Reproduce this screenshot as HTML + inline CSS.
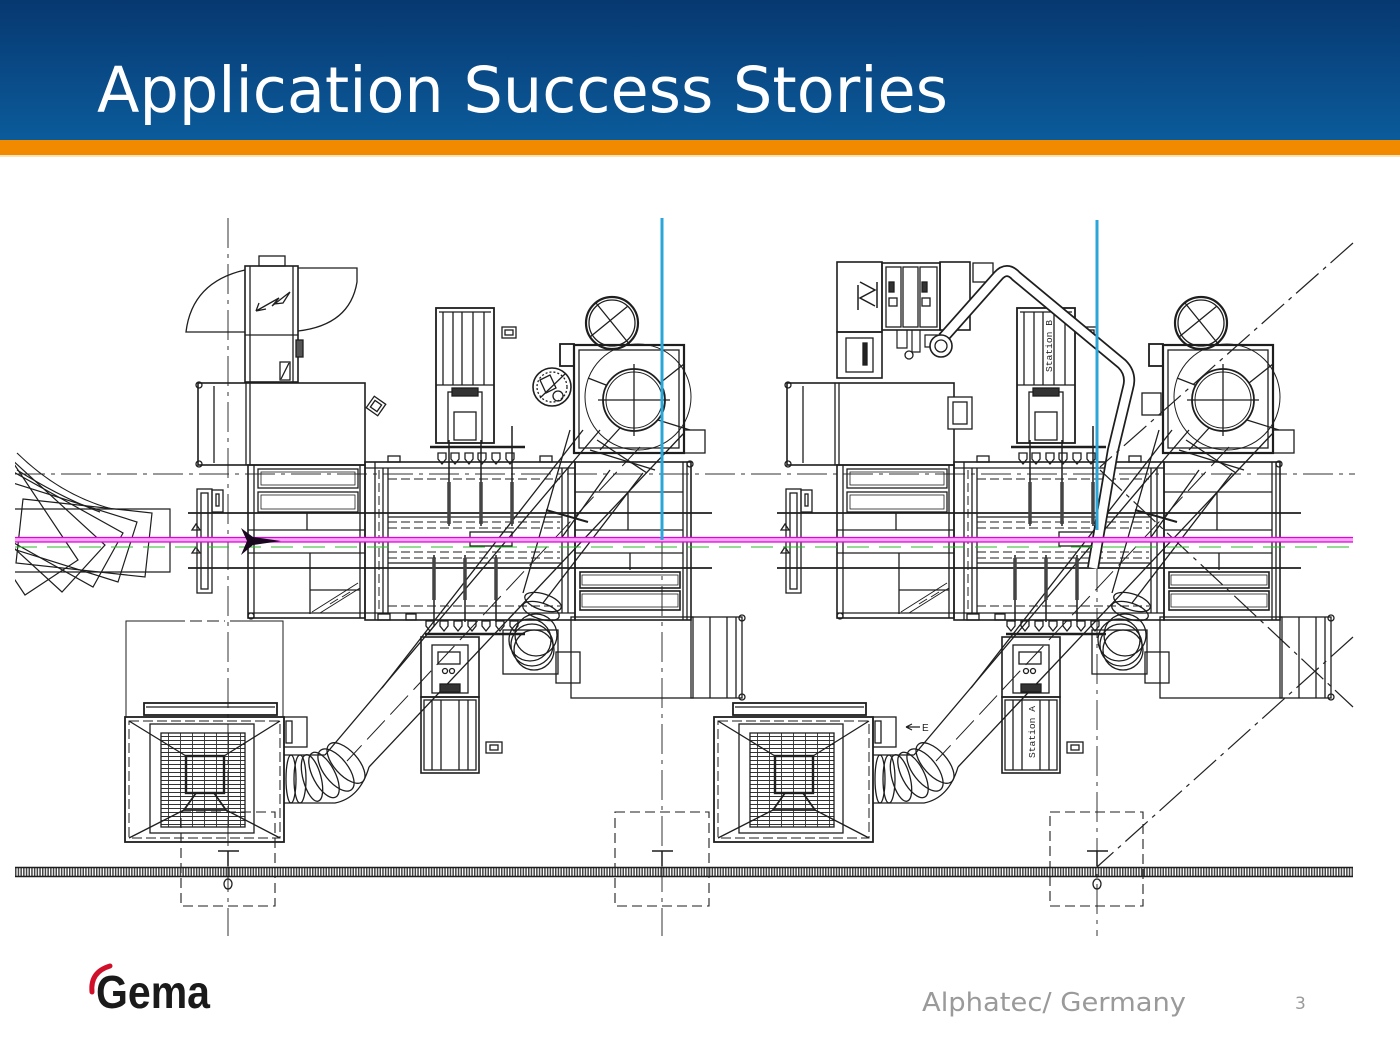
<!DOCTYPE html>
<html><head><meta charset="utf-8">
<style>
html,body{margin:0;padding:0;background:#fff;}
body{width:1400px;height:1050px;overflow:hidden;position:relative;}
svg{display:block;}
</style></head><body>
<svg width="1400" height="1050" viewBox="0 0 1400 1050" xmlns="http://www.w3.org/2000/svg">
<defs>
<linearGradient id="hdr" x1="0" y1="0" x2="0" y2="1">
<stop offset="0" stop-color="#073870"/><stop offset="1" stop-color="#0b5b9b"/>
</linearGradient>
<pattern id="grid" x="0" y="0" width="12" height="4" patternUnits="userSpaceOnUse">
<path d="M0,0.5H12 M0.5,0V4" stroke="#333" stroke-width="0.9" fill="none"/>
</pattern>
<clipPath id="lclip"><rect x="15" y="430" width="180" height="200"/></clipPath>

<g id="unit" fill="none" stroke="#1e1e1e" stroke-width="1.3">
 <rect x="198" y="383" width="167" height="82" stroke-width="1.6"/>
 <line x1="214" y1="386" x2="214" y2="463"/>
 <line x1="246" y1="383" x2="246" y2="465"/>
 <line x1="250" y1="383" x2="250" y2="465"/>
 <circle cx="199" cy="385" r="3"/><circle cx="199" cy="464" r="3"/>
 <rect x="197" y="489" width="15" height="104"/>
 <rect x="201" y="493" width="7" height="96"/>
 <rect x="212" y="490" width="11" height="22"/>
 <rect x="216" y="494" width="3" height="12"/>
 <path d="M196,524 l-4,6 h8 z M196,547 l-4,6 h8 z"/>
 <line x1="188" y1="513" x2="712" y2="513" stroke-width="1.8"/>
 <line x1="188" y1="568" x2="712" y2="568" stroke-width="1.8"/>
 <rect x="248" y="465" width="117" height="153" stroke-width="1.6"/>
 <line x1="254" y1="465" x2="254" y2="618"/>
 <line x1="360" y1="465" x2="360" y2="618"/>
 <rect x="258" y="469" width="100" height="19"/>
 <rect x="261" y="472" width="94" height="13" stroke-width=".8"/>
 <rect x="258" y="492" width="100" height="20"/>
 <rect x="261" y="495" width="94" height="14" stroke-width=".8"/>
 <line x1="248" y1="530" x2="365" y2="530"/>
 <line x1="248" y1="553" x2="365" y2="553"/>
 <line x1="307" y1="513" x2="307" y2="530"/>
 <line x1="310" y1="553" x2="310" y2="614"/>
 <line x1="310" y1="590" x2="360" y2="590"/>
 <path d="M312,612 L358,583 M320,613 L360,588 M330,604 l8,-5 M342,597 l8,-5" stroke-width="1"/>
 <line x1="248" y1="613" x2="365" y2="613"/>
 <circle cx="251" cy="616" r="3"/>
 <rect x="365" y="462" width="210" height="158" stroke-width="1.6"/>
 <line x1="365" y1="468" x2="575" y2="468"/>
 <line x1="365" y1="613" x2="575" y2="613"/>
 <line x1="375" y1="462" x2="375" y2="620"/>
 <line x1="383" y1="468" x2="383" y2="613"/>
 <line x1="388" y1="468" x2="388" y2="613"/>
 <line x1="562" y1="468" x2="562" y2="613"/>
 <line x1="568" y1="468" x2="568" y2="613"/>
 <g stroke-dasharray="9,4" stroke-width="1">
  <line x1="388" y1="479" x2="560" y2="479"/>
  <line x1="388" y1="522" x2="560" y2="522"/>
  <line x1="388" y1="528" x2="560" y2="528"/>
  <line x1="388" y1="552" x2="560" y2="552"/>
  <line x1="388" y1="558" x2="560" y2="558"/>
  <line x1="388" y1="606" x2="560" y2="606"/>
  <line x1="379" y1="470" x2="379" y2="610"/>
 </g>
 <line x1="388" y1="517" x2="562" y2="517"/>
 <line x1="388" y1="563" x2="562" y2="563"/>
 <rect x="470" y="532" width="42" height="14"/>
 <rect x="388" y="456" width="12" height="6"/><rect x="540" y="456" width="12" height="6"/>
 <rect x="378" y="614" width="12" height="6"/><rect x="406" y="614" width="10" height="6"/>
 <rect x="575" y="462" width="116" height="158" stroke-width="1.6"/>
 <line x1="683" y1="462" x2="683" y2="620"/>
 <line x1="687" y1="462" x2="687" y2="620"/>
 <line x1="575" y1="492" x2="683" y2="492"/>
 <line x1="575" y1="530" x2="683" y2="530"/>
 <line x1="575" y1="553" x2="683" y2="553"/>
 <line x1="628" y1="492" x2="628" y2="530"/>
 <line x1="630" y1="553" x2="630" y2="570"/>
 <rect x="580" y="572" width="100" height="16" stroke-width="1.6"/>
 <rect x="582" y="575" width="96" height="10" stroke-width=".8"/>
 <rect x="580" y="591" width="100" height="19" stroke-width="1.6"/>
 <rect x="582" y="594" width="96" height="13" stroke-width=".8"/>
 <circle cx="690" cy="464" r="3"/>
 <rect x="574" y="345" width="110" height="108" stroke-width="2.2"/>
 <rect x="579" y="350" width="100" height="98"/>
 <circle cx="638" cy="397" r="53" stroke-width="1"/>
 <circle cx="634" cy="400" r="31" stroke-width="1.8"/>
 <circle cx="634" cy="400" r="28" stroke-width="1"/>
 <line x1="598" y1="400" x2="670" y2="400"/>
 <line x1="634" y1="364" x2="634" y2="436"/>
 <line x1="660" y1="383" x2="684" y2="364"/>
 <line x1="658" y1="420" x2="690" y2="430"/>
 <line x1="606" y1="385" x2="588" y2="378"/>
 <line x1="620" y1="428" x2="600" y2="450"/>
 <circle cx="612" cy="323" r="26" stroke-width="2.2"/>
 <circle cx="612" cy="323" r="23"/>
 <line x1="596" y1="303" x2="630" y2="345"/>
 <line x1="590" y1="337" x2="628" y2="306"/>
 <rect x="684" y="430" width="21" height="23"/>
 <rect x="560" y="344" width="14" height="22" stroke-width="1.8"/>
 <line x1="583" y1="430" x2="382" y2="688"/>
 <line x1="600" y1="430" x2="325" y2="755"/>
 <line x1="684" y1="433" x2="369" y2="767"/>
 <line x1="640" y1="447" x2="347" y2="761" stroke-dasharray="26,8" stroke-width="1"/>
 <line x1="570" y1="430" x2="523" y2="593"/>
 <line x1="643" y1="473" x2="543" y2="603"/>
 <line x1="597" y1="440" x2="647" y2="473"/>
 <line x1="590" y1="450" x2="655" y2="470"/>
 <line x1="546" y1="510" x2="588" y2="522" stroke-width="2"/>
 <line x1="610" y1="470" x2="560" y2="540"/>
 <rect x="503" y="630" width="55" height="44"/>
 <rect x="556" y="652" width="24" height="31"/>
 <ellipse cx="543" cy="602" rx="19" ry="8" transform="rotate(18 543 602)"/>
 <ellipse cx="541" cy="611" rx="19" ry="8" transform="rotate(18 541 611)"/>
 <circle cx="530" cy="640" r="21"/>
 <circle cx="532" cy="645" r="21"/>
 <circle cx="534" cy="650" r="20"/>
 <circle cx="536" cy="635" r="21"/>
 <rect x="571" y="617" width="122" height="81"/>
 <rect x="691" y="617" width="51" height="81"/>
 <line x1="710" y1="617" x2="710" y2="698"/>
 <line x1="727" y1="617" x2="727" y2="698"/>
 <line x1="736" y1="617" x2="736" y2="698"/>
 <circle cx="742" cy="618" r="3"/><circle cx="742" cy="697" r="3"/>
 <rect x="144" y="703" width="133" height="12" stroke-width="1.8"/>
 <line x1="146" y1="707" x2="275" y2="707"/>
 <rect x="125" y="717" width="159" height="125" stroke-width="1.8"/>
 <rect x="129" y="721" width="151" height="117" stroke-dasharray="10,4" stroke-width="1"/>
 <rect x="150" y="724" width="104" height="109"/>
 <rect x="161" y="733" width="84" height="94" fill="url(#grid)"/>
 <rect x="186" y="756" width="38" height="37" stroke-width="2.4"/>
 <path d="M196,793 L184,810 H226 L214,793" stroke-width="1.8"/>
 <line x1="129" y1="721" x2="186" y2="756"/>
 <line x1="280" y1="721" x2="224" y2="756"/>
 <line x1="129" y1="838" x2="184" y2="810"/>
 <line x1="280" y1="838" x2="226" y2="810"/>
 <rect x="284" y="717" width="23" height="30"/>
 <rect x="286" y="721" width="6" height="22"/>
 <path d="M284,755 H325"/>
 <path d="M284,803 H335 Q360,798 369,767"/>
 <ellipse cx="291" cy="779" rx="5" ry="24"/>
 <ellipse cx="300" cy="779" rx="6" ry="24"/>
 <ellipse cx="312" cy="778" rx="9" ry="24" transform="rotate(-15 312 778)"/>
 <ellipse cx="324" cy="775" rx="11" ry="25" transform="rotate(-28 324 775)"/>
 <ellipse cx="336" cy="770" rx="12" ry="25" transform="rotate(-38 336 770)"/>
 <ellipse cx="346" cy="763" rx="12" ry="25" transform="rotate(-42 346 763)"/>
</g>

<g id="guns" fill="none" stroke="#1e1e1e" stroke-width="1.3">
 <rect x="436" y="308" width="58" height="135" stroke-width="1.8"/>
 <line x1="443" y1="312" x2="443" y2="385"/>
 <line x1="453" y1="312" x2="453" y2="385"/>
 <line x1="462" y1="312" x2="462" y2="385"/>
 <line x1="473" y1="312" x2="473" y2="385"/>
 <line x1="484" y1="312" x2="484" y2="385"/>
 <line x1="439" y1="312" x2="491" y2="312"/>
 <line x1="436" y1="385" x2="494" y2="385"/>
 <rect x="448" y="392" width="34" height="51"/>
 <rect x="452" y="388" width="26" height="8" fill="#333"/>
 <rect x="454" y="412" width="22" height="28"/>
 <line x1="430" y1="447" x2="525" y2="447" stroke-width="2.5"/>
 <path d="M438,453 h8 v6 l-4,5 l-4,-5 z M451,453 h8 v6 l-4,5 l-4,-5 z M465,453 h8 v6 l-4,5 l-4,-5 z M478,453 h8 v6 l-4,5 l-4,-5 z M492,453 h8 v6 l-4,5 l-4,-5 z M506,453 h8 v6 l-4,5 l-4,-5 z"/>
 <line x1="449" y1="440" x2="449" y2="526" stroke-width="1.5"/>
 <line x1="449" y1="482" x2="449" y2="524" stroke-width="3.5" stroke="#444"/>
 <line x1="481" y1="440" x2="481" y2="526" stroke-width="1.5"/>
 <line x1="481" y1="482" x2="481" y2="524" stroke-width="3.5" stroke="#444"/>
 <line x1="512" y1="426" x2="512" y2="526" stroke-width="1.5"/>
 <line x1="512" y1="482" x2="512" y2="524" stroke-width="3.5" stroke="#444"/>
 <line x1="434" y1="555" x2="434" y2="622" stroke-width="1.5"/>
 <line x1="434" y1="558" x2="434" y2="600" stroke-width="3.5" stroke="#444"/>
 <line x1="465" y1="555" x2="465" y2="622" stroke-width="1.5"/>
 <line x1="465" y1="558" x2="465" y2="600" stroke-width="3.5" stroke="#444"/>
 <line x1="496" y1="555" x2="496" y2="622" stroke-width="1.5"/>
 <line x1="496" y1="558" x2="496" y2="600" stroke-width="3.5" stroke="#444"/>
 <path d="M426,621 h8 v5 l-4,5 l-4,-5 z M440,621 h8 v5 l-4,5 l-4,-5 z M454,621 h8 v5 l-4,5 l-4,-5 z M468,621 h8 v5 l-4,5 l-4,-5 z M482,621 h8 v5 l-4,5 l-4,-5 z M496,621 h8 v5 l-4,5 l-4,-5 z M510,621 h8 v5 l-4,5 l-4,-5 z"/>
 <line x1="425" y1="634" x2="525" y2="634" stroke-width="2.5"/>
 <rect x="421" y="637" width="58" height="60" stroke-width="1.6"/>
 <rect x="432" y="645" width="36" height="48"/>
 <rect x="438" y="652" width="22" height="12"/>
 <circle cx="445" cy="671" r="2.5"/><circle cx="452" cy="671" r="2.5"/>
 <rect x="440" y="684" width="20" height="8" fill="#333"/>
 <rect x="421" y="697" width="58" height="76" stroke-width="1.6"/>
 <rect x="424" y="700" width="52" height="70"/>
 <line x1="432" y1="700" x2="432" y2="770"/>
 <line x1="441" y1="700" x2="441" y2="770"/>
 <line x1="459" y1="700" x2="459" y2="770"/>
 <line x1="468" y1="700" x2="468" y2="770"/>
 <rect x="486" y="742" width="16" height="11"/><rect x="490" y="745" width="8" height="5"/>
 <rect x="502" y="327" width="14" height="11"/><rect x="505" y="330" width="8" height="5"/>
</g>
</defs>

<rect x="0" y="0" width="1400" height="140" fill="url(#hdr)"/>
<rect x="0" y="140" width="1400" height="15" fill="#f28a00"/>
<rect x="0" y="155" width="1400" height="2" fill="#fbe3b5"/>
<text x="97" y="112" font-family="DejaVu Sans, Liberation Sans, sans-serif" font-size="63" fill="#ffffff" textLength="851" lengthAdjust="spacingAndGlyphs">Application Success Stories</text>

<g fill="none">
 <line x1="15" y1="474" x2="1355" y2="474" stroke="#333" stroke-width="1" stroke-dasharray="30,6,4,6"/>
 <line x1="228" y1="218" x2="228" y2="936" stroke="#333" stroke-width="1" stroke-dasharray="30,6,4,6"/>
 <line x1="662" y1="540" x2="662" y2="936" stroke="#333" stroke-width="1" stroke-dasharray="30,6,4,6"/>
 <line x1="1097" y1="470" x2="1097" y2="936" stroke="#333" stroke-width="1" stroke-dasharray="30,6,4,6"/>
</g>

<use href="#unit"/>
<use href="#unit" x="589"/>
<use href="#guns"/>
<use href="#guns" x="581"/>

<g fill="none" stroke="#1e1e1e" stroke-width="1.3">
 <rect x="259" y="256" width="26" height="10"/>
 <rect x="245" y="266" width="53" height="116" stroke-width="1.6"/>
 <line x1="245" y1="335" x2="298" y2="335"/>
 <line x1="250" y1="266" x2="250" y2="382"/>
 <line x1="293" y1="266" x2="293" y2="382"/>
 <path d="M245,270 Q192,282 186,332 L245,332"/>
 <path d="M298,268 L357,268 L357,282 Q350,325 298,331"/>
 <path d="M290,292 L272,306 L279,298 L256,311 M256,311 l10,-2 M256,311 l3,-8 M290,292 L283,303 L274,304"/>
 <rect x="280" y="362" width="10" height="18"/>
 <line x1="281" y1="379" x2="289" y2="363"/>
 <rect x="296" y="340" width="7" height="17" fill="#555"/>
 <circle cx="552" cy="387" r="19" stroke-width="1.6"/>
 <circle cx="552" cy="387" r="15" stroke-dasharray="2,2"/>
 <path d="M540,380 L550,375 L556,388 L546,393 Z"/>
 <circle cx="558" cy="396" r="5"/>
 <line x1="540" y1="398" x2="565" y2="374"/>
 <rect x="369" y="399" width="14" height="14" transform="rotate(35 376 406)"/>
 <rect x="372" y="402" width="8" height="8" transform="rotate(35 376 406)"/>
 <path d="M126,717 V621 H185 M230,621 H283 V717" stroke-width="1"/>
 <path d="M190,621 H225" stroke-width="1" stroke-dasharray="12,5"/>
 <rect x="181" y="812" width="94" height="94" stroke-dasharray="10,5" stroke-width="1.1"/>
 <rect x="615" y="812" width="94" height="94" stroke-dasharray="10,5" stroke-width="1.1"/>
 <rect x="1050" y="812" width="93" height="94" stroke-dasharray="10,5" stroke-width="1.1"/>
 <path d="M218,851 H239 M228,851 V866 M652,851 H673 M662,851 V866 M1087,851 H1108 M1097,851 V866" stroke-width="1.5"/>
 <ellipse cx="228" cy="884" rx="4" ry="5"/>
 <ellipse cx="1097" cy="884" rx="4" ry="5"/>
</g>

<g fill="none">
 <line x1="15" y1="872" x2="1353" y2="872" stroke="#444" stroke-width="8" stroke-dasharray="1.5,1.2"/>
 <line x1="15" y1="867.5" x2="1353" y2="867.5" stroke="#1e1e1e" stroke-width="1.6"/>
 <line x1="15" y1="876.5" x2="1353" y2="876.5" stroke="#1e1e1e" stroke-width="1.6"/>
</g>

<g clip-path="url(#lclip)" fill="none" stroke="#1e1e1e" stroke-width="1.2">
 <polygon points="10,509 170,509 170,572 10,572"/>
 <polygon points="23,499 152,513 145,577 16,563"/>
 <polygon points="13,483 137,522 118,582 -6,543"/>
 <polygon points="10,470 123,533 93,587 -20,524"/>
 <polygon points="10,458 105,545 62,592 -33,505"/>
 <polygon points="6,452 78,560 25,595 -47,487"/>
 <path d="M17,453 Q60,495 112,509 M17,470 Q62,498 100,512"/>
</g>

<g fill="none" stroke="#1e1e1e" stroke-width="1.3">
 <rect x="837" y="262" width="45" height="70" stroke-width="1.6"/>
 <rect x="837" y="332" width="45" height="46" stroke-width="1.6"/>
 <rect x="846" y="338" width="27" height="34"/>
 <rect x="863" y="343" width="4" height="22" fill="#222"/>
 <path d="M860,282 L875,290 L860,298 L875,306 M858,285 V310 M877,282 V308" stroke-width="1.5"/>
 <rect x="882" y="263" width="58" height="67" stroke-width="1.6"/>
 <rect x="886" y="267" width="15" height="60"/>
 <rect x="903" y="267" width="15" height="60"/>
 <rect x="920" y="267" width="17" height="60"/>
 <rect x="889" y="282" width="5" height="10" fill="#333"/>
 <rect x="922" y="282" width="5" height="10" fill="#333"/>
 <rect x="889" y="298" width="8" height="8"/><rect x="922" y="298" width="8" height="8"/>
 <rect x="940" y="262" width="30" height="68" stroke-width="1.6"/>
 <rect x="973" y="263" width="20" height="19"/>
 <path d="M897,330 v18 h10 v-18 M912,330 v22 h8 v-22 M925,335 h20 v12 h-20 z" stroke-width="1.2"/>
 <circle cx="909" cy="355" r="4"/>
 <path d="M943,338 L998,276 Q1007,266 1016,276 L1122,364 Q1132,374 1128,388 L1113,450 L1093,568" stroke-width="12" stroke-linejoin="round"/>
 <path d="M943,338 L998,276 Q1007,266 1016,276 L1122,364 Q1132,374 1128,388 L1113,450 L1093,568" stroke="#fff" stroke-width="8.5" stroke-linejoin="round"/>
 <circle cx="941" cy="346" r="11" fill="#fff" stroke-width="1.6"/>
 <circle cx="941" cy="346" r="6"/>
 <rect x="1142" y="393" width="19" height="22"/>
 <rect x="948" y="397" width="24" height="32" fill="#fff"/>
 <rect x="953" y="402" width="14" height="22"/>
 <g stroke="#222" stroke-width="1.2" stroke-dasharray="30,6,4,6">
  <line x1="1353" y1="243" x2="1100" y2="467"/>
  <line x1="1100" y1="470" x2="1353" y2="707"/>
  <line x1="1353" y1="637" x2="1097" y2="867"/>
 </g>
 <path d="M920,727 H906 M906,727 l6,-3 M906,727 l6,3" stroke-width="1.2"/>
</g>
<text x="922" y="731" font-family="Liberation Sans, sans-serif" font-size="10" fill="#222">E</text>
<text transform="translate(1052,372) rotate(-90)" font-family="Liberation Mono, monospace" font-size="9" fill="#222" textLength="52" lengthAdjust="spacingAndGlyphs">Station B</text>
<text transform="translate(1035,758) rotate(-90)" font-family="Liberation Mono, monospace" font-size="9" fill="#222" textLength="52" lengthAdjust="spacingAndGlyphs">Station A</text>

<g fill="none">
 <rect x="15" y="537.5" width="1338" height="4.5" fill="#f7a8f5" stroke="none"/>
 <line x1="15" y1="537.5" x2="1353" y2="537.5" stroke="#e000e0" stroke-width="1.3"/>
 <line x1="15" y1="542" x2="1353" y2="542" stroke="#e000e0" stroke-width="1.3"/>
 <line x1="15" y1="547" x2="1353" y2="547" stroke="#2cb52c" stroke-width="1.1" stroke-dasharray="22,10"/>
 <line x1="662" y1="218" x2="662" y2="540" stroke="#2ba6da" stroke-width="3"/>
 <line x1="1097" y1="220" x2="1097" y2="530" stroke="#2ba6da" stroke-width="3"/>
</g>
<path d="M241,528 L253,537 L281,541 L253,545 L241,555 L247,541 Z" fill="#1a0820"/>

<path d="M92,992 Q90,972 110,966" fill="none" stroke="#d0102a" stroke-width="5" stroke-linecap="round"/>
<text x="96" y="1008" font-family="Liberation Sans, sans-serif" font-weight="bold" font-size="46" fill="#1a1a1a" textLength="114" lengthAdjust="spacingAndGlyphs">Gema</text>
<text x="922" y="1011" font-family="DejaVu Sans, Liberation Sans, sans-serif" font-size="26" fill="#9a9a9a" textLength="264" lengthAdjust="spacingAndGlyphs">Alphatec/ Germany</text>
<text x="1295" y="1009" font-family="DejaVu Sans, Liberation Sans, sans-serif" font-size="17" fill="#9a9a9a">3</text>
</svg>
</body></html>
